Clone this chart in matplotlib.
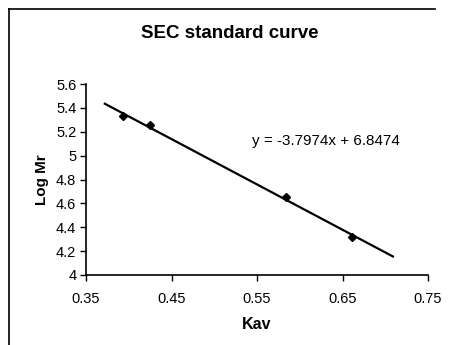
import matplotlib
matplotlib.use("Agg")
import numpy as np
from matplotlib import pyplot as plt
from matplotlib.lines import Line2D

# measured standards
kav = [0.393, 0.425, 0.584, 0.661]
log_mr = [5.33, 5.26, 4.65, 4.32]

# linear fit reported on the chart
slope = -3.7974
intercept = 6.8474
fit_range = [0.372, 0.709]

x_ticks = [0.35, 0.45, 0.55, 0.65, 0.75]
y_ticks = [4, 4.2, 4.4, 4.6, 4.8, 5, 5.2, 5.4, 5.6]
y_labels = ["4", "4.2", "4.4", "4.6", "4.8", "5", "5.2", "5.4", "5.6"]

plt.rcParams["font.family"] = ["Liberation Sans", "DejaVu Sans"]

W, H = 451, 345
fig = plt.figure(figsize=(W / 100, H / 100), dpi=100)
ax = fig.add_axes([86 / W, 1 - 275 / H, (428 - 86) / W, (275 - 84) / H])

fx = np.array(fit_range)
ax.plot(fx, slope * fx + intercept, color="black", linewidth=1.6)
ax.plot(kav, log_mr, linestyle="none", marker="D", markersize=4.5,
        color="black")

ax.set_xlim(0.35, 0.75)
ax.set_ylim(4, 5.6)
ax.set_xticks(x_ticks)
ax.set_xticklabels([f"{t:.2f}" for t in x_ticks])
ax.set_yticks(y_ticks)
ax.set_yticklabels(y_labels)
ax.tick_params(direction="out", length=4, width=1, labelsize=10.5, pad=8)
ax.tick_params(axis="y", pad=3)
for side in ("top", "right"):
    ax.spines[side].set_visible(False)
for side in ("left", "bottom"):
    ax.spines[side].set_linewidth(1.2)

ax.set_xlabel("Kav", fontsize=11.5, fontweight="bold", labelpad=8)
ax.set_ylabel("Log Mr", fontsize=11, fontweight="bold", labelpad=5)

ax.text(326 / W, 1 - 141 / H, f"y = {slope}x + {intercept}",
        transform=fig.transFigure, ha="center", va="center", fontsize=11)
fig.text(230 / W, 1 - 33 / H, "SEC standard curve", ha="center",
         va="center", fontsize=13.5, fontweight="bold")

# outer chart frame (top and left edges visible)
fig.add_artist(Line2D([9 / W, 435 / W], [1 - 9 / H, 1 - 9 / H],
                      transform=fig.transFigure, color="black", linewidth=1.2))
fig.add_artist(Line2D([9 / W, 9 / W], [1 - 9 / H, 0],
                      transform=fig.transFigure, color="black", linewidth=1.2))

fig.savefig("out.png", dpi=100)
